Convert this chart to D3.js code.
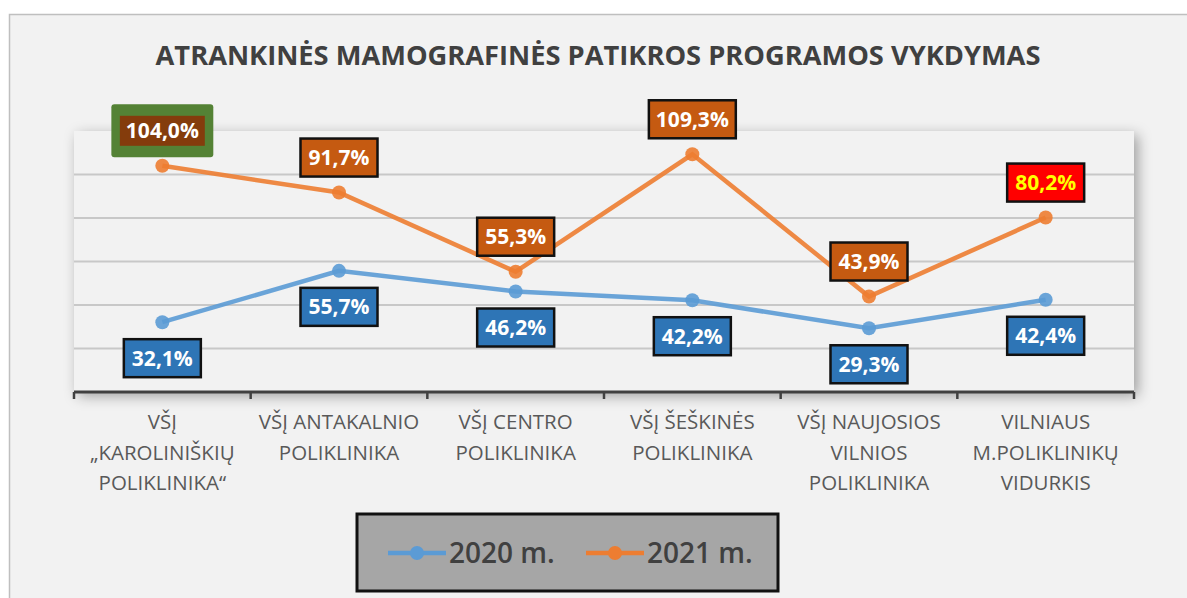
<!DOCTYPE html>
<html>
<head>
<meta charset="utf-8">
<script src="https://cdn.jsdelivr.net/npm/d3@7"></script>
<style>
  html, body { margin: 0; padding: 0; background: #fff; }
  svg { display: block; font-family: "Open Sans", sans-serif; }
</style>
</head>
<body>
<div id="chart"></div>
<script>
var categories = [
    ["VŠĮ", "„KAROLINIŠKIŲ", "POLIKLINIKA“"],
    ["VŠĮ ANTAKALNIO", "POLIKLINIKA"],
    ["VŠĮ CENTRO", "POLIKLINIKA"],
    ["VŠĮ ŠEŠKINĖS", "POLIKLINIKA"],
    ["VŠĮ NAUJOSIOS", "VILNIOS", "POLIKLINIKA"],
    ["VILNIAUS", "M.POLIKLINIKŲ", "VIDURKIS"]
];
var values2020 = [32.1, 55.7, 46.2, 42.2, 29.3, 42.4];
var values2021 = [104.0, 91.7, 55.3, 109.3, 43.9, 80.2];
var seriesNames = ["2020 m.", "2021 m."];
var yTicks = [20, 40, 60, 80, 100];
var title = "ATRANKINĖS MAMOGRAFINĖS PATIKROS PROGRAMOS VYKDYMAS";

var width = 1187, height = 598;
var plot = {left: 74, right: 1134, top: 131, bottom: 392};

var svg = d3.select("#chart").append("svg")
    .attr("width", width)
    .attr("height", height);

var defs = svg.append("defs");
var shadow = defs.append("filter")
    .attr("id", "shadow")
    .attr("x", "-10%").attr("y", "-30%")
    .attr("width", "120%").attr("height", "160%");
shadow.append("feDropShadow")
    .attr("dx", 4).attr("dy", 4)
    .attr("stdDeviation", 7)
    .attr("flood-color", "#000")
    .attr("flood-opacity", 0.35);

// chart frame
svg.append("rect")
    .attr("x", 9.5).attr("y", 14.5)
    .attr("width", width + 20).attr("height", height + 20)
    .attr("fill", "#f2f2f2")
    .attr("stroke", "#bfbfbf")
    .attr("stroke-width", 1.5);

// title, sized to the reference width
var titleText = svg.append("text")
    .attr("x", 598).attr("y", 65)
    .attr("text-anchor", "middle")
    .attr("font-weight", 700)
    .attr("font-size", 22)
    .attr("fill", "#404040")
    .text(title);
var tw = titleText.node().getComputedTextLength();
titleText.attr("font-size", 22 * 885 / tw);

var x = d3.scaleBand()
    .domain(d3.range(categories.length))
    .range([plot.left, plot.right]);
var y = d3.scaleLinear()
    .domain([0, 120])
    .range([plot.bottom, plot.top]);
var cx = function (i) { return x(i) + x.bandwidth() / 2; };

// plot area
svg.append("rect")
    .attr("x", plot.left).attr("y", plot.top)
    .attr("width", plot.right - plot.left)
    .attr("height", plot.bottom - plot.top)
    .attr("fill", "#f2f2f2")
    .attr("filter", "url(#shadow)");

svg.append("g").selectAll("line")
    .data(yTicks)
    .enter().append("line")
    .attr("x1", plot.left).attr("x2", plot.right)
    .attr("y1", function (d) { return y(d); })
    .attr("y2", function (d) { return y(d); })
    .attr("stroke", "#c8c8c8")
    .attr("stroke-width", 2);

// x axis
var axis = svg.append("g")
    .attr("transform", "translate(0," + plot.bottom + ")")
    .call(d3.axisBottom(x).tickSize(0).tickFormat(""));
axis.select(".domain").remove();
axis.append("line")
    .attr("x1", plot.left).attr("x2", plot.right)
    .attr("stroke", "#404040").attr("stroke-width", 3);
axis.selectAll(".bound")
    .data(d3.range(categories.length + 1))
    .enter().append("line")
    .attr("class", "bound")
    .attr("x1", function (d) { return plot.left + d * x.bandwidth(); })
    .attr("x2", function (d) { return plot.left + d * x.bandwidth(); })
    .attr("y1", 0).attr("y2", 7)
    .attr("stroke", "#404040").attr("stroke-width", 2.5);

var catLabels = svg.append("g").selectAll("text")
    .data(categories)
    .enter().append("text")
    .attr("text-anchor", "middle")
    .attr("font-size", 20.5)
    .attr("fill", "#595959");
catLabels.each(function (lines, i) {
    d3.select(this).selectAll("tspan")
        .data(lines)
        .enter().append("tspan")
        .attr("x", cx(i))
        .attr("y", function (d, j) { return 429 + j * 30.5; })
        .text(function (d) { return d; });
});

var line = d3.line()
    .x(function (d, i) { return cx(i); })
    .y(function (d) { return y(d); });

var series = [
    {values: values2020, color: "#5b9bd5", fill: "#2e75b6", dy: 36},
    {values: values2021, color: "#ed7d31", fill: "#c55a11", dy: -35}
];

// special label looks for the 2021 series
var special = {
    "1-0": {fill: "#843c0c", outline: "#548235"},
    "1-5": {fill: "#ff0000", text: "#ffff00"}
};

series.forEach(function (s) {
    svg.append("path")
        .datum(s.values)
        .attr("d", line)
        .attr("fill", "none")
        .attr("stroke", s.color)
        .attr("stroke-width", 4.5)
        .attr("stroke-opacity", 0.9);
    svg.append("g").selectAll("circle")
        .data(s.values)
        .enter().append("circle")
        .attr("cx", function (d, i) { return cx(i); })
        .attr("cy", function (d) { return y(d); })
        .attr("r", 7)
        .attr("fill", s.color)
        .attr("fill-opacity", 0.9);
});

var fmt = function (v) { return v.toFixed(1).replace(".", ",") + "%"; };

series.forEach(function (s, si) {
    s.values.forEach(function (v, i) {
        var sp = special[si + "-" + i] || {};
        var g = svg.append("g")
            .attr("transform", "translate(" + cx(i) + "," + (y(v) + s.dy) + ")");
        var t = g.append("text")
            .attr("text-anchor", "middle")
            .attr("dy", "0.36em")
            .attr("font-size", 21)
            .attr("font-weight", 700)
            .attr("fill", sp.text || "#fff")
            .text(fmt(v));
        var w = t.node().getComputedTextLength();
        var bw = Math.max(w + 14, 77), bh = 38;
        if (sp.outline) {
            g.insert("rect", "text")
                .attr("x", -bw / 2 - 7.5).attr("y", -bh / 2 - 7.5)
                .attr("width", bw + 15).attr("height", bh + 15)
                .attr("rx", 3)
                .attr("fill", sp.outline);
            g.insert("rect", "text")
                .attr("x", -bw / 2 + 1).attr("y", -bh / 2 + 4)
                .attr("width", bw - 2).attr("height", bh - 8)
                .attr("fill", sp.fill);
        } else {
            g.insert("rect", "text")
                .attr("x", -bw / 2).attr("y", -bh / 2)
                .attr("width", bw).attr("height", bh)
                .attr("fill", sp.fill || s.fill)
                .attr("stroke", "#111")
                .attr("stroke-width", 2.5);
        }
    });
});

// legend
var legend = svg.append("g");
legend.append("rect")
    .attr("x", 357).attr("y", 514)
    .attr("width", 421).attr("height", 77)
    .attr("fill", "#a6a6a6")
    .attr("stroke", "#111")
    .attr("stroke-width", 3);
var lx = [388, 586];
series.forEach(function (s, si) {
    var g = legend.append("g").attr("transform", "translate(" + lx[si] + ",553)");
    g.append("line")
        .attr("x1", 0).attr("x2", 58)
        .attr("stroke", s.color).attr("stroke-width", 4.5);
    g.append("circle")
        .attr("cx", 29).attr("r", 7)
        .attr("fill", s.color);
    g.append("text")
        .attr("x", 61).attr("dy", "0.36em")
        .attr("font-size", 28)
        .attr("font-weight", 600)
        .attr("fill", "#404040")
        .text(seriesNames[si]);
});
</script>
</body>
</html>
